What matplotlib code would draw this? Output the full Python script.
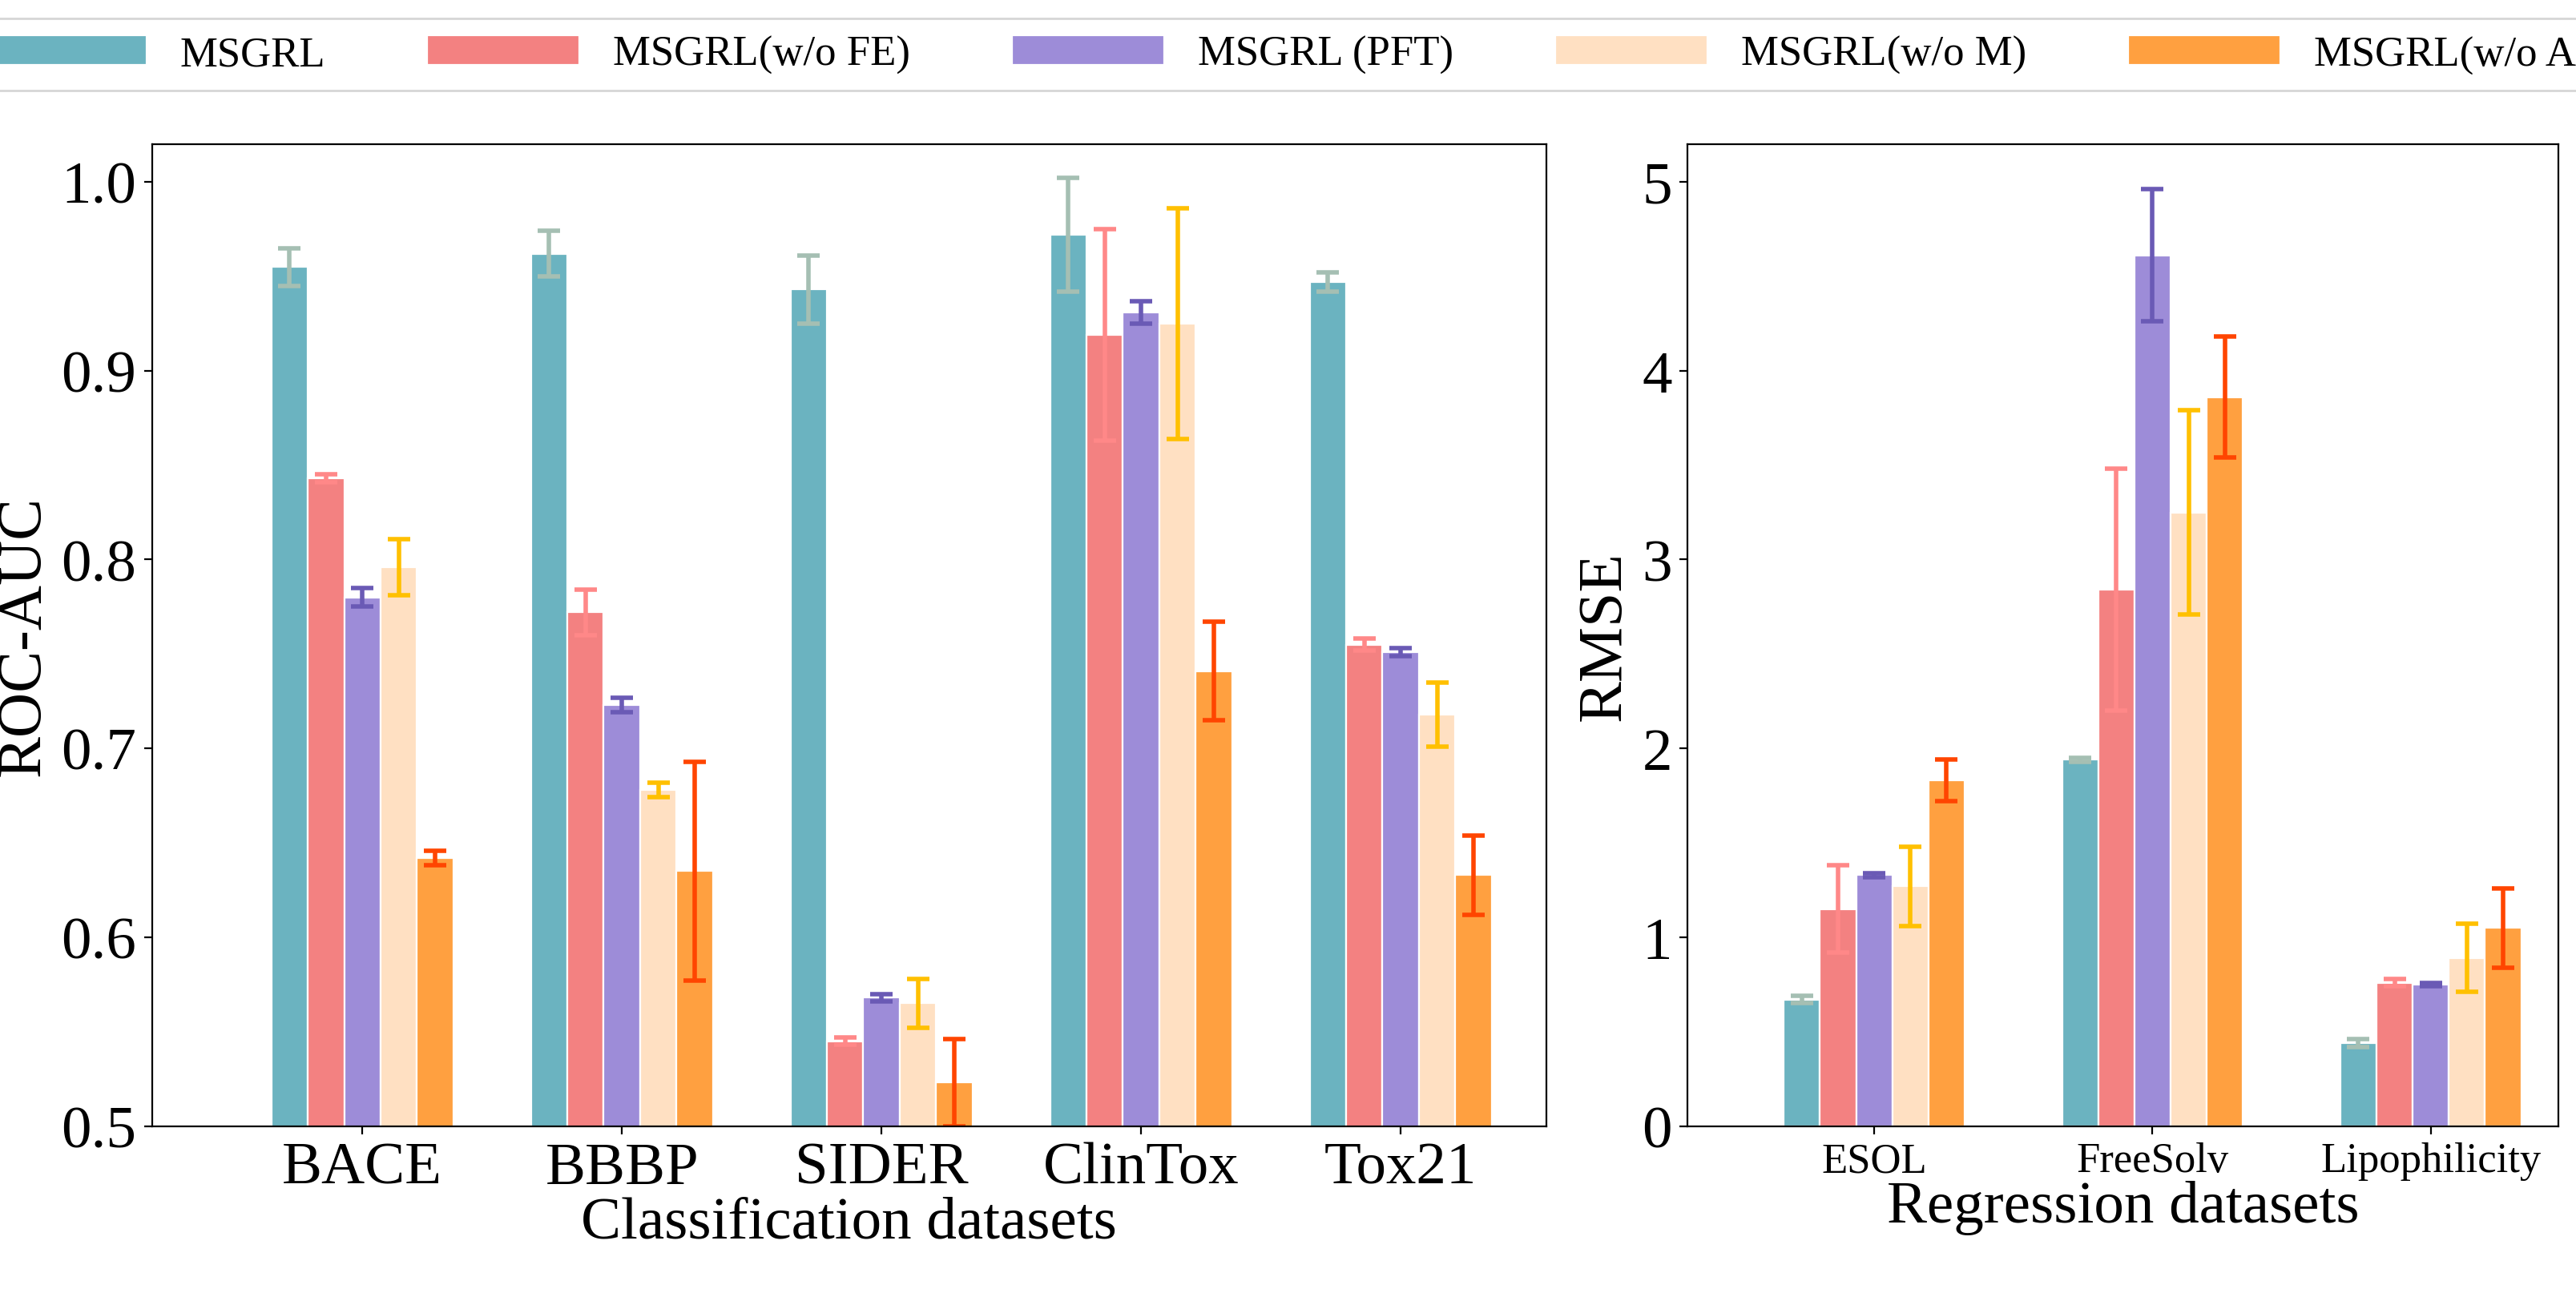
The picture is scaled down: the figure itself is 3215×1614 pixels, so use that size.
import matplotlib
matplotlib.use("Agg")
import matplotlib.pyplot as plt
import numpy as np

plt.rcParams['font.family'] = ['Liberation Serif', 'DejaVu Serif']

methods = ["MSGRL", "MSGRL(w/o FE)", "MSGRL (PFT)", "MSGRL(w/o M)", "MSGRL(w/o All)"]
colors = ["#6BB3C0", "#F38181", "#9D8CD8", "#FFE0C2", "#FFA040"]
ecolors = ["#A5BFB3", "#FF8888", "#6A5AB5", "#FFC000", "#FF4500"]

cls_names = ["BACE", "BBBP", "SIDER", "ClinTox", "Tox21"]
cls_mean = [
    [0.955, 0.962, 0.943, 0.972, 0.947],
    [0.843, 0.772, 0.545, 0.919, 0.755],
    [0.780, 0.723, 0.568, 0.931, 0.751],
    [0.796, 0.678, 0.565, 0.925, 0.718],
    [0.642, 0.635, 0.523, 0.741, 0.633],
]
cls_err = [
    [0.010, 0.012, 0.018, 0.030, 0.005],
    [0.002, 0.012, 0.002, 0.056, 0.003],
    [0.005, 0.004, 0.002, 0.006, 0.002],
    [0.015, 0.004, 0.013, 0.061, 0.017],
    [0.004, 0.058, 0.023, 0.026, 0.021],
]
reg_names = ["ESOL", "FreeSolv", "Lipophilicity"]
reg_mean = [
    [0.67, 1.94, 0.44],
    [1.15, 2.84, 0.76],
    [1.33, 4.61, 0.75],
    [1.27, 3.25, 0.89],
    [1.83, 3.86, 1.05],
]
reg_err = [
    [0.02, 0.01, 0.02],
    [0.23, 0.64, 0.02],
    [0.01, 0.35, 0.01],
    [0.21, 0.54, 0.18],
    [0.11, 0.32, 0.21],
]

fig = plt.figure(figsize=(16.08, 8.075), dpi=200)
ax1 = fig.add_axes([0.059, 0.129, 0.541, 0.759])
ax2 = fig.add_axes([0.655, 0.129, 0.338, 0.759])

def draw(ax, names, means, errs, step, w):
    x = np.arange(len(names))
    handles = []
    for i in range(5):
        off = (i - 2) * step
        h = ax.bar(x + off, means[i], width=w, color=colors[i], edgecolor='white',
                   linewidth=0.8, label=methods[i])
        ax.errorbar(x + off, means[i], yerr=errs[i], fmt='none', ecolor=ecolors[i],
                    elinewidth=2, capsize=5, capthick=2)
        handles.append(h)
    ax.set_xticks(x)
    return handles

handles = draw(ax1, cls_names, cls_mean, cls_err, 0.14, 0.14)
ax1.set_xticklabels(cls_names, fontsize=27)
ax1.set_ylim(0.5, 1.02)
ax1.set_xlim(-0.81, 4.56)
ax1.set_yticks([0.5, 0.6, 0.7, 0.8, 0.9, 1.0])
ax1.set_yticklabels(["0.5", "0.6", "0.7", "0.8", "0.9", "1.0"])
ax1.tick_params(axis='both', labelsize=27)
ax1.set_ylabel("ROC-AUC", fontsize=28, labelpad=4)
ax1.set_xlabel("Classification datasets", fontsize=27, labelpad=0)

draw(ax2, reg_names, reg_mean, reg_err, 0.13, 0.13)
ax2.set_xticklabels(reg_names, fontsize=19)
ax2.set_ylim(0, 5.2)
ax2.set_xlim(-0.67, 2.46)
ax2.tick_params(axis='y', labelsize=27)
ax2.set_ylabel("RMSE", fontsize=28)
ax2.set_xlabel("Regression datasets", fontsize=27, labelpad=0)

fig.legend(handles=handles, labels=methods, loc='upper center', ncol=5,
           bbox_to_anchor=(0.506, 0.995), fontsize=19, frameon=True,
           handlelength=3.6, columnspacing=2.4, borderaxespad=0.3)

fig.savefig("out.png", dpi=200)
